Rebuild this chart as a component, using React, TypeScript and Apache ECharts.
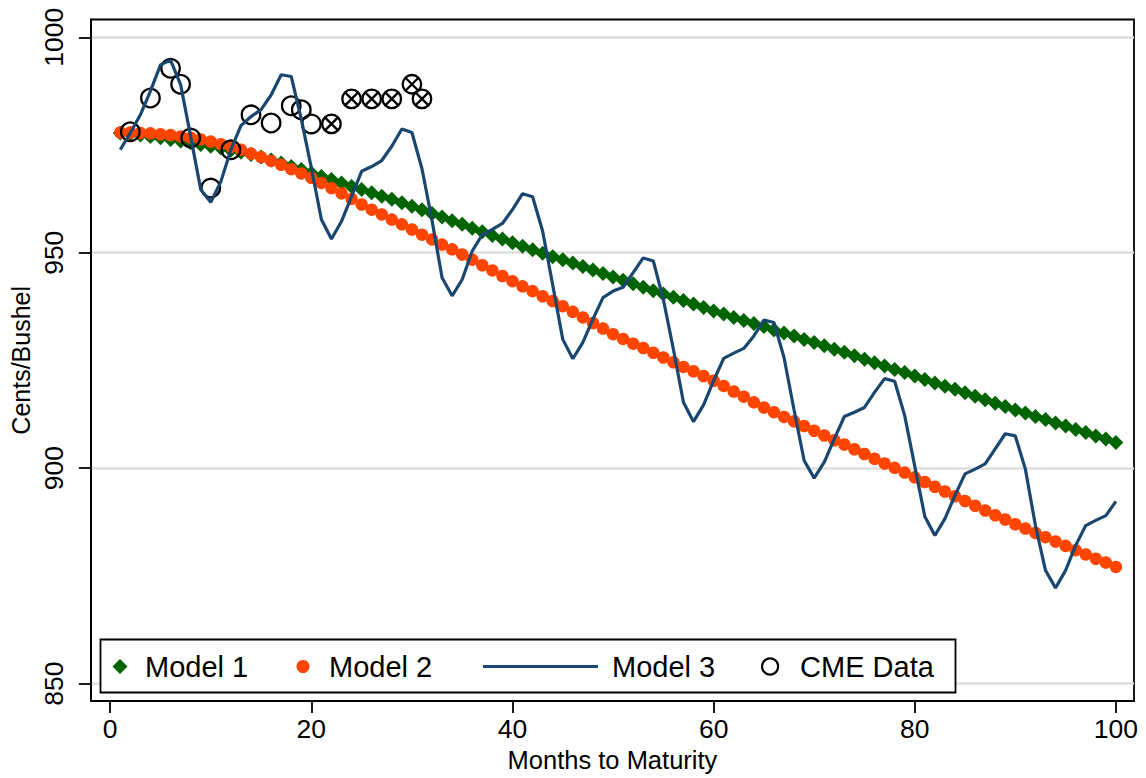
import React, { useEffect, useRef } from "react";
import * as echarts from "echarts";

const months = Array.from({ length: 100 }, (_, i) => i + 1);

const model1 = [
  977.8, 977.6, 977.3, 977.0, 976.7, 976.3, 975.9, 975.5, 975.1, 974.7,
  974.3, 973.8, 973.3, 972.8, 972.2, 971.5, 970.8, 970.0, 969.3, 968.5,
  967.7, 967.0, 966.2, 965.4, 964.7, 963.9, 963.1, 962.4, 961.6, 960.8,
  960.0, 959.1, 958.3, 957.4, 956.6, 955.7, 954.9, 954.0, 953.2, 952.3,
  951.5, 950.7, 949.9, 949.1, 948.4, 947.6, 946.8, 946.0, 945.2, 944.4,
  943.6, 942.8, 942.0, 941.2, 940.4, 939.7, 938.9, 938.1, 937.3, 936.5,
  935.8, 935.0, 934.3, 933.6, 932.9, 932.1, 931.4, 930.7, 929.9, 929.2,
  928.4, 927.6, 926.9, 926.1, 925.3, 924.5, 923.7, 922.9, 922.2, 921.4,
  920.6, 919.8, 919.0, 918.3, 917.5, 916.7, 915.9, 915.1, 914.3, 913.5,
  912.8, 912.0, 911.3, 910.5, 909.8, 909.0, 908.3, 907.5, 906.8, 906.0,
];

const model2 = [
  977.9, 977.9, 977.8, 977.7, 977.5, 977.3, 977.0, 976.7, 976.3, 975.8,
  975.2, 974.6, 973.9, 973.0, 972.2, 971.3, 970.4, 969.4, 968.4, 967.4,
  966.2, 965.0, 963.8, 962.5, 961.2, 960.0, 958.9, 957.7, 956.6, 955.4,
  954.2, 953.1, 951.9, 950.8, 949.6, 948.4, 947.1, 945.9, 944.6, 943.4,
  942.2, 941.1, 939.9, 938.8, 937.6, 936.3, 935.0, 933.7, 932.4, 931.1,
  930.0, 928.9, 927.9, 926.8, 925.7, 924.6, 923.5, 922.5, 921.4, 920.3,
  919.1, 917.8, 916.6, 915.3, 914.1, 913.0, 911.9, 910.9, 909.8, 908.7,
  907.6, 906.5, 905.5, 904.4, 903.3, 902.2, 901.1, 900.1, 899.0, 897.9,
  896.8, 895.7, 894.6, 893.5, 892.4, 891.3, 890.2, 889.1, 888.1, 887.0,
  886.0, 885.0, 884.0, 883.0, 882.0, 881.0, 880.0, 879.0, 878.1, 877.1,
];

const model3 = [
  973.9, 977.8, 982.0, 987.5, 993.6, 994.7, 989.0, 977.0, 964.7, 961.7,
  966.5, 973.9, 979.5, 981.6, 983.2, 986.6, 991.3, 990.9, 981.0, 969.7,
  957.7, 953.2, 957.3, 963.1, 968.9, 970.0, 971.4, 974.7, 978.7, 977.9,
  969.5, 957.5, 944.2, 940.0, 943.8, 950.4, 954.2, 955.4, 956.8, 960.0,
  963.7, 963.0, 955.0, 942.5, 929.9, 925.4, 929.2, 934.6, 939.6, 941.1,
  942.0, 945.4, 948.8, 948.1, 939.2, 927.6, 915.3, 910.8, 914.7, 920.3,
  925.5, 926.7, 927.8, 930.7, 934.4, 933.8, 925.7, 913.5, 901.8, 897.7,
  901.4, 906.8, 912.0, 913.0, 914.1, 917.6, 920.8, 920.2, 912.2, 900.5,
  888.8, 884.4, 888.3, 893.7, 898.7, 899.8, 901.0, 904.5, 908.0, 907.5,
  899.8, 886.7, 876.3, 872.2, 876.3, 882.1, 886.7, 887.9, 889.0, 892.3,
];

const cmeMonths = [2, 4, 6, 7, 8, 10, 12, 14, 16, 18, 19, 20, 22, 24, 26, 28, 30, 31];
const cmeValues = [
  978.1, 985.9, 992.8, 989.1, 976.6, 965.0, 973.9, 982.0, 980.1, 984.1, 983.2, 979.9,
  979.9, 985.7, 985.7, 985.7, 989.1, 985.7,
];
const cmeCrossed = [
  false, false, false, false, false, false, false, false, false, false, false, false,
  true, true, true, true, true, true,
];

const xTicks = [0, 20, 40, 60, 80, 100];
const yTicks = [850, 900, 950, 1000];

const FONT = "'Liberation Sans', Arial, Helvetica, sans-serif";
const CROSS_CIRCLE =
  "path://M20,10 A10,10 0 1 1 0,10 A10,10 0 1 1 20,10 Z M2.93,2.93 L17.07,17.07 M17.07,2.93 L2.93,17.07";
const LINE_ICON = "path://M0,0 L115,0 L115,3 L0,3 Z";

export default function App() {
  const ref = useRef<HTMLDivElement>(null);

  useEffect(() => {
    if (!ref.current) return;
    const chart = echarts.init(ref.current, null, { renderer: "svg" });

    const legendText = (pad: number) => ({
      fontFamily: FONT,
      fontSize: 29,
      color: "#000",
      padding: [0, 0, 0, pad],
    });

    const option = {
      animation: false,
      backgroundColor: "#fff",
      grid: {
        left: 90,
        top: 19.5,
        width: 1044,
        height: 683.2,
        show: true,
        borderColor: "#000",
        borderWidth: 1.8,
        containLabel: false,
      },
      xAxis: {
        type: "value",
        min: -1.92,
        max: 101.8,
        name: "Months to Maturity",
        nameLocation: "middle",
        nameGap: 41,
        nameTextStyle: { fontFamily: FONT, fontSize: 25.5, color: "#000" },
        axisLine: { show: true, onZero: false, lineStyle: { color: "#000", width: 1.8 } },
        axisTick: { show: true, length: 12, customValues: xTicks, lineStyle: { color: "#000", width: 1.8 } },
        axisLabel: {
          customValues: xTicks, margin: 14, fontFamily: FONT, fontSize: 26.5, color: "#000",
          formatter: (v: number) => String(v),
        },
        splitLine: { show: false },
      },
      yAxis: {
        type: "value",
        min: 845.97,
        max: 1004.12,
        name: "Cents/Bushel",
        nameLocation: "middle",
        nameGap: 55.5,
        nameRotate: 90,
        nameTextStyle: { fontFamily: FONT, fontSize: 25, color: "#000" },
        axisLine: { show: true, onZero: false, lineStyle: { color: "#000", width: 1.8 } },
        axisTick: { show: true, length: 12, customValues: yTicks, lineStyle: { color: "#000", width: 1.8 } },
        axisLabel: {
          customValues: yTicks, rotate: 90, margin: 23, fontFamily: FONT, fontSize: 26.5, color: "#000",
          formatter: (v: number) => String(v),
        },
        splitLine: { show: true, lineStyle: { color: "#dedede", width: 2.5 } },
      },
      legend: [
        {
          data: ["Model 1"], left: 112.5, top: 652, padding: 0, itemWidth: 15, itemHeight: 15,
          selectedMode: false, textStyle: legendText(12.5),
        },
        {
          data: ["Model 2"], left: 296.5, top: 652, padding: 0, itemWidth: 13, itemHeight: 13,
          selectedMode: false, textStyle: legendText(14.5),
        },
        {
          data: [{ name: "Model 3", icon: LINE_ICON }], left: 483, top: 652, padding: 0,
          itemWidth: 115, itemHeight: 3,
          selectedMode: false, textStyle: legendText(9),
        },
        {
          data: ["CME Data"], left: 761, top: 652, padding: 0, itemWidth: 16, itemHeight: 16,
          selectedMode: false, textStyle: legendText(17), itemStyle: { borderWidth: 2.2 },
        },
      ],
      graphic: [
        {
          type: "rect",
          z: 3,
          shape: { x: 100.5, y: 639.5, width: 855, height: 53 },
          style: { fill: "#fff", stroke: "#000", lineWidth: 1.8 },
        },
      ],
      series: [
        {
          name: "Model 1",
          type: "scatter",
          symbol: "diamond",
          symbolSize: 15,
          itemStyle: { color: "#006400", opacity: 1 },
          data: months.map((m, i) => [m, model1[i]]),
        },
        {
          name: "Model 2",
          type: "scatter",
          symbol: "circle",
          symbolSize: 12.5,
          itemStyle: { color: "#ff4500", opacity: 1 },
          data: months.map((m, i) => [m, model2[i]]),
        },
        {
          name: "Model 3",
          type: "line",
          symbol: "none",
          showSymbol: false,
          lineStyle: { color: "#1a476f", width: 3.2 },
          itemStyle: { color: "#1a476f" },
          data: months.map((m, i) => [m, model3[i]]),
        },
        {
          name: "CME Data",
          type: "scatter",
          symbol: "circle",
          symbolSize: 18.5,
          itemStyle: { color: "rgba(0,0,0,0)", borderColor: "#000", borderWidth: 2.3, opacity: 1 },
          data: cmeMonths.map((m, i) =>
            cmeCrossed[i]
              ? { value: [m, cmeValues[i]], symbol: CROSS_CIRCLE }
              : { value: [m, cmeValues[i]] }
          ),
        },
      ],
    };

    chart.setOption(option as any);
    return () => chart.dispose();
  }, []);

  return (
    <div
      ref={ref}
      style={{ position: "absolute", left: 0, top: 0, width: 1146, height: 778 }}
    />
  );
}
